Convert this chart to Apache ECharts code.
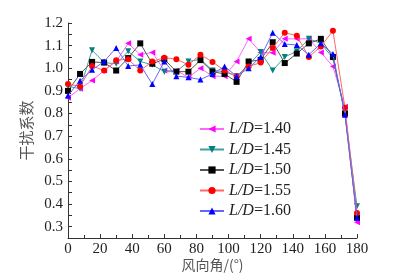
<!DOCTYPE html>
<html>
<head>
<meta charset="utf-8">
<script src="https://cdn.jsdelivr.net/npm/echarts@6/dist/echarts.min.js"></script>
<style>
html,body{margin:0;padding:0;background:#fff;}
#main{width:409px;height:277px;}
</style>
</head>
<body>
<div id="main"></div>
<script>
// wind angle, every 7.5 degrees
var angles = [0,7.5,15,22.5,30,37.5,45,52.5,60,67.5,75,82.5,90,97.5,105,112.5,120,127.5,135,142.5,150,157.5,165,172.5,180];
var names = ['1.40','1.45','1.50','1.55','1.60'];
var ld140 = [0.87,0.91,0.946,0.99,1.03,1.11,1.06,1.07,0.99,0.99,0.96,1.0,0.965,0.965,1.03,1.13,1.07,1.068,1.13,1.13,1.13,1.07,1.008,0.83,0.32];
var ld145 = [0.92,0.91,1.08,1.025,1.02,1.075,1.03,1.015,0.985,0.985,1.03,1.04,0.99,0.985,0.965,1.015,1.072,0.99,1.05,1.075,1.13,1.11,1.045,0.80,0.39];
var ld150 = [0.90,0.975,1.028,1.025,0.99,1.045,1.11,1.02,1.04,0.985,0.985,1.036,0.985,0.975,0.94,1.03,1.037,1.115,1.023,1.065,1.11,1.13,1.05,0.80,0.34];
var ld155 = [0.93,0.92,1.01,0.99,1.035,1.04,0.99,1.03,1.047,1.04,1.015,1.06,1.028,0.99,0.965,1.008,1.025,1.09,1.157,1.144,1.05,1.096,1.166,0.825,0.36];
var ld160 = [0.88,0.945,0.993,1.03,1.09,1.01,1.015,0.93,1.03,0.965,0.96,0.95,0.975,1.008,0.965,1.0,1.05,1.157,1.107,1.103,1.06,1.11,1.063,0.795,0.34];

var allData = [ld140, ld145, ld150, ld155, ld160];
var colors = ['#ff00ff','#008080','#000000','#ff0000','#0000ff'];
var lineColors = ['#ff66ff','#40a0a0','#555555','#ff6666','#6666ff'];
var symbols = ['triangle','triangle','rect','circle','triangle'];
var rotates = [90,180,0,0,0];

function pairs(arr){
    var out = [];
    for (var i = 0; i < arr.length; i++) out.push([angles[i], arr[i]]);
    return out;
}

var series = [];
for (var k = 0; k < names.length; k++) {
    series.push({
        name: names[k],
        type: 'line',
        data: pairs(allData[k]),
        symbol: symbols[k],
        symbolRotate: rotates[k],
        symbolSize: 6,
        itemStyle: {color: colors[k]},
        lineStyle: {color: lineColors[k], width: 1},
        z: 2 + k
    });
}

var serif = '"Liberation Serif","Times New Roman",serif';
var myChart = echarts.init(document.getElementById('main'));
option = {
    animation: false,
    grid: {left: 68, right: 52, top: 23, bottom: 39, outerBoundsMode: 'none'},
    legend: {
        orient: 'vertical',
        left: 194,
        top: 116,
        itemWidth: 24,
        itemHeight: 9,
        itemGap: 4.5,
        data: names,
        formatter: function(n){ return '{i|L/D}=' + n; },
        textStyle: {
            fontFamily: serif, fontSize: 16, color: '#222',
            rich: {i: {fontStyle: 'italic', fontFamily: serif, fontSize: 16, color: '#222'}}
        }
    },
    xAxis: {
        type: 'value',
        min: 0,
        max: 180,
        interval: 20,
        name: '风向角/(°)',
        nameLocation: 'middle',
        nameGap: 20,
        nameMoveOverlap: false,
        nameTextStyle: {fontFamily: '"Noto Sans CJK SC"', fontSize: 14, color: '#555'},
        axisLine: {lineStyle: {color: '#333'}},
        axisTick: {inside: true, length: 4, lineStyle: {color: '#333'}},
        minorTick: {show: true, splitNumber: 2, length: 3, lineStyle: {color: '#333'}},
        axisLabel: {fontFamily: serif, fontSize: 15, color: '#222', margin: 4},
        splitLine: {show: false}
    },
    yAxis: {
        type: 'value',
        min: 0.25,
        max: 1.2,
        interval: 0.05,
        name: '干扰系数',
        nameLocation: 'middle',
        nameRotate: 90,
        nameGap: 29,
        nameTextStyle: {fontFamily: '"Noto Sans CJK SC"', fontSize: 15, color: '#555'},
        axisLine: {show: true, lineStyle: {color: '#333'}},
        axisTick: {show: true, inside: true, length: 4, lineStyle: {color: '#333'}},
        axisLabel: {
            fontFamily: serif, fontSize: 15, color: '#222', margin: 5,
            formatter: function(v){
                var t = Math.round(v * 100);
                return (t % 10 === 0) ? (t / 100).toFixed(1) : '';
            }
        },
        splitLine: {show: false}
    },
    series: series
};
if (option && typeof option == "object") {
    myChart.setOption(option, true);
}
</script>
</body>
</html>
